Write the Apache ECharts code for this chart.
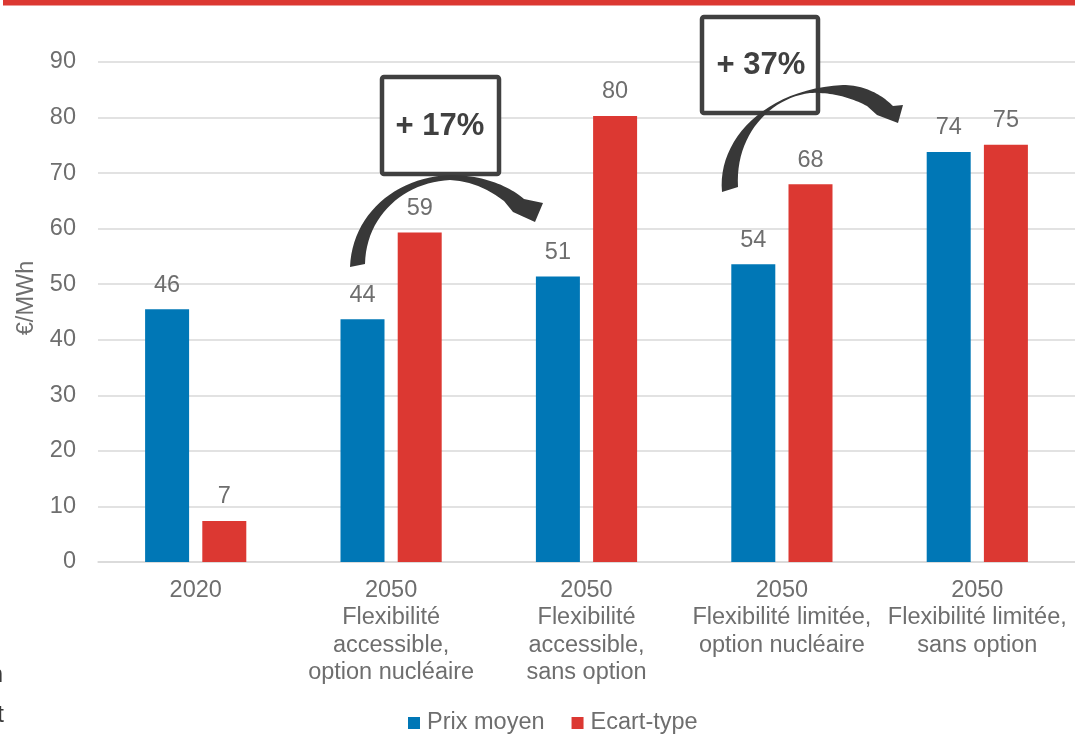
<!DOCTYPE html>
<html>
<head>
<meta charset="utf-8">
<script src="https://cdn.jsdelivr.net/npm/echarts@6/dist/echarts.min.js"></script>
<style>html,body{margin:0;padding:0;background:#fff}#c{width:1075px;height:734px}</style>
</head>
<body>
<div id="c"></div>
<script>
const categories = [
  "2020",
  "2050\nFlexibilité\naccessible,\noption nucléaire",
  "2050\nFlexibilité\naccessible,\nsans option",
  "2050\nFlexibilité limitée,\noption nucléaire",
  "2050\nFlexibilité limitée,\nsans option"
];
const prixMoyen = [45.5, 43.7, 51.4, 53.6, 73.8];
const ecartType = [7.4, 59.3, 80.3, 68.0, 75.1];
const seriesNames = ["Prix moyen", "Ecart-type"];
const yTicks = { min: 0, max: 90, interval: 10 };
const annotations = ["+ 17%", "+ 37%"];

const FONT = "'Liberation Sans', Arial, sans-serif";
const GRAY = "#6e6e6e";
const DARK = "#3a3a3a";

// sample a path made of M/C/L segments into polygon points (decoration only)
function shapePoints(segs) {
  const pts = [];
  let cur = null;
  segs.forEach(s => {
    if (s[0] === 'M' || s[0] === 'L') { cur = [s[1], s[2]]; pts.push(cur); }
    else if (s[0] === 'C') {
      const [p0, p1, p2, p3] = [cur, [s[1], s[2]], [s[3], s[4]], [s[5], s[6]]];
      for (let i = 1; i <= 24; i++) {
        const t = i / 24, u = 1 - t;
        pts.push([
          u*u*u*p0[0] + 3*u*u*t*p1[0] + 3*u*t*t*p2[0] + t*t*t*p3[0],
          u*u*u*p0[1] + 3*u*u*t*p1[1] + 3*u*t*t*p2[1] + t*t*t*p3[1]
        ]);
      }
      cur = p3;
    }
  });
  return pts;
}

const arrow1 = shapePoints([
  ['M', 350, 267], ['C', 352, 215, 395, 177, 450, 175], ['C', 485, 175, 510, 187, 524, 199],
  ['L', 543, 203], ['L', 535, 222], ['L', 513, 212], ['L', 504, 201],
  ['C', 487, 188, 470, 181, 450, 180], ['C', 405, 182, 366, 215, 365, 264]
]);
const arrow2 = shapePoints([
  ['M', 722, 192], ['C', 717, 140, 765, 89, 843, 85], ['C', 865, 85, 882, 95, 893, 106],
  ['L', 903, 105], ['L', 898, 123], ['L', 877, 115], ['L', 867, 106],
  ['C', 850, 97, 830, 92, 810, 93], ['C', 770, 98, 735, 135, 738, 187]
]);

const chart = echarts.init(document.getElementById('c'), null, { renderer: 'canvas' });

const labelCfg = {
  show: true, position: 'top', distance: 12,
  color: GRAY, fontSize: 23.5, fontFamily: FONT,
  formatter: p => String(Math.round(p.value))
};

chart.setOption({
  backgroundColor: '#fff',
  animation: false,
  textStyle: { fontFamily: FONT },
  grid: { left: 98, right: -3, top: 62, bottom: 172, containLabel: false },
  legend: {
    left: 403, top: 706,
    itemWidth: 12, itemHeight: 12, itemGap: 27,
    icon: 'rect',
    textStyle: { color: GRAY, fontSize: 23.5, fontFamily: FONT, padding: [0, 0, 0, 2] },
    data: seriesNames
  },
  xAxis: {
    type: 'category',
    data: categories,
    axisLine: { show: true, lineStyle: { color: '#d9d9d9', width: 1.5 } },
    axisTick: { show: false },
    axisLabel: { color: GRAY, fontSize: 23.5, fontFamily: FONT, lineHeight: 27.3, margin: 15, interval: 0 }
  },
  yAxis: {
    type: 'value',
    min: yTicks.min, max: yTicks.max, interval: yTicks.interval,
    axisLine: { show: false },
    axisTick: { show: false },
    splitLine: { lineStyle: { color: '#d9d9d9', width: 1.5 } },
    axisLabel: { color: GRAY, fontSize: 23.5, fontFamily: FONT, margin: 22 }
  },
  series: [
    {
      name: seriesNames[0], type: 'bar', data: prixMoyen,
      barWidth: 44, barGap: '30%',
      itemStyle: { color: '#0077b6' },
      label: labelCfg
    },
    {
      name: seriesNames[1], type: 'bar', data: ecartType,
      barWidth: 44, barGap: '30%',
      itemStyle: { color: '#dc3832' },
      label: labelCfg
    }
  ],
  graphic: [
    { type: 'rect', shape: { x: 3, y: 0, width: 1072, height: 5.5 }, style: { fill: '#dc3832' }, z: 100 },
    { type: 'text', x: 27, y: 298, rotation: Math.PI / 2, style: { text: '€/MWh', x: 0, y: 0, fill: GRAY, font: '23.5px ' + FONT, textAlign: 'center', textVerticalAlign: 'middle' }, z: 100 },
    { type: 'text', style: { text: 'n', x: 3, y: 675, fill: DARK, font: '24px ' + FONT, textAlign: 'right', textVerticalAlign: 'middle' }, z: 100 },
    { type: 'text', style: { text: 't', x: 4, y: 715, fill: DARK, font: '24px ' + FONT, textAlign: 'right', textVerticalAlign: 'middle' }, z: 100 },
    { type: 'rect', shape: { x: 382, y: 77, width: 117, height: 97, r: 2 }, style: { fill: '#fff', stroke: '#404040', lineWidth: 4.5 }, z: 100 },
    { type: 'text', style: { text: annotations[0], x: 440, y: 126, fill: '#404040', font: 'bold 31px ' + FONT, textAlign: 'center', textVerticalAlign: 'middle' }, z: 101 },
    { type: 'polygon', shape: { points: arrow1 }, style: { fill: '#383838' }, z: 102 },
    { type: 'rect', shape: { x: 702, y: 17, width: 116, height: 96, r: 2 }, style: { fill: '#fff', stroke: '#404040', lineWidth: 4.5 }, z: 100 },
    { type: 'text', style: { text: annotations[1], x: 761, y: 65, fill: '#404040', font: 'bold 31px ' + FONT, textAlign: 'center', textVerticalAlign: 'middle' }, z: 101 },
    { type: 'polygon', shape: { points: arrow2 }, style: { fill: '#383838' }, z: 102 }
  ]
});
</script>
</body>
</html>
